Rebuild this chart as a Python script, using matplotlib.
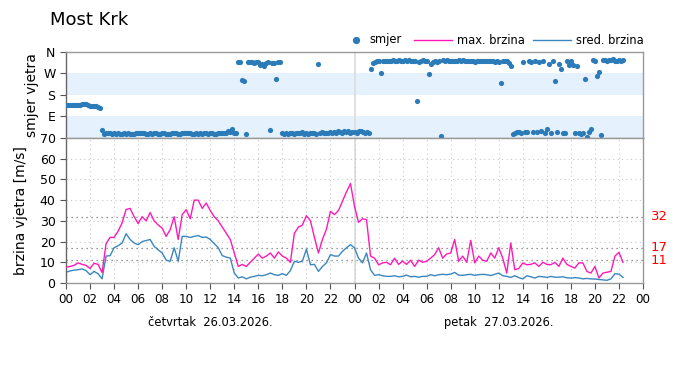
import numpy as np
import matplotlib
matplotlib.use("Agg")
import matplotlib.pyplot as plt
from matplotlib.lines import Line2D

# ---- data (hours since 26.03.2026 00:00) ----
# speeds: 20-minute samples
max_speed = [
    7.6, 8, 8.5,   9.7, 9, 8.5,   7, 9.5, 9,   5, 19, 22,
    22, 25, 29,   35.5, 36, 32,   28.7, 32, 30,   34, 30, 28,
    26.5, 22.5, 25.8,   32, 21, 33,   35.4, 31, 40,   40, 36, 38.6,
    35, 32, 30,   27, 24, 21,   14.5, 8, 9,   8, 10, 12,
    14, 12, 13,   14.5, 12, 15,   13, 12, 10,   24, 27, 28,
    32.5, 30, 22,   14.5, 21, 26,   34.6, 33, 35,   39.5, 44, 48,
    37, 29.3, 31,   30.6, 13, 12,   8.8, 9.7, 10,   8.8, 12, 9,
    10.5, 9, 11,   8, 11, 10,   10.5, 12, 13.7,   17, 12, 14,
    14.5, 21, 10.5,   13, 10, 20.6,   9.7, 13, 11,   10.5, 14.5, 12,
    17, 12, 4.8,   19.3, 6.4, 7,   9.7, 8.8, 9,   9.7, 8, 10,
    9, 8.8, 10,   8, 12, 9,   8, 7.2, 9.7,   9.7, 5.6, 4.8,
    8, 2.4, 4.8,   5.2, 5.6, 13,   14.8, 10,
]
mean_speed = [
    5.2, 5.8, 6.2,   6.4, 6.8, 6,   4, 5.6, 4.5,   2, 13, 13.2,
    17, 18, 19.3,   23.8, 21, 19.3,   18.5, 20, 20.5,   21, 17.7, 16,
    14.5, 11, 10.5,   17, 10.5, 22.5,   22.5, 22, 22.5,   22.9, 22, 22.2,
    21, 19, 17,   13.2, 12.5, 12,   4.8, 2.4, 3,   2, 2.8, 3.2,
    3.7, 3.5, 4,   4.8, 4, 3.7,   4.5, 3.7, 6,   10.5, 10, 10.5,
    16.4, 8.8, 9,   5.6, 8, 9.7,   13.7, 13, 13,   15.3, 17, 18.5,
    17, 12, 9.7,   14.5, 6.4, 3.7,   4, 3.5, 3.2,   3.2, 3.5, 3,
    3.2, 3.8, 3,   3.2, 2.8, 3.2,   3.2, 4, 3.5,   4, 4.2, 4,
    4.3, 5.1, 3.8,   3.7, 4, 4.2,   3.7, 4, 4.2,   4, 3.6, 4.2,
    4.8, 3.5, 3.2,   2.7, 3.5, 2.6,   2, 3.5, 3,   2.4, 3.2, 3,
    2.7, 3.2, 2.8,   2.8, 3, 2.5,   2.4, 2.6, 2.4,   2, 2.2, 2,
    1.9, 1.7, 1.5,   1.3, 2, 4.5,   4.3, 2.7,
]
# direction: 10-minute samples (degrees)
direction = [
    137, 138, 138, 139, 139, 138,   140, 139, 141, 141, 142, 140,
    133, 136, 135, 134, 131, 127,   33, 18, 20, 19, 21, 18,
    19, 17, 20, 18, 16, 19,   18, 22, 17, 15, 17, 20,
    20, 23, 19, 21, 18, 17,   21, 18, 20, 19, 17, 18,
    22, 19, 17, 16, 18, 20,   20, 21, 18, 17, 19, 21,
    19, 22, 20, 18, 16, 19,   18, 20, 17, 21, 19, 17,
    21, 19, 18, 16, 20, 23,   20, 22, 19, 30, 24, 38,
    22, 20, 317, 317, 243, 240,   17, 318, 318, 320, 316, 317,
    317, 305, 310, 303, 312, 318,   33, 315, 316, 247, 318, 317,
    20, 18, 22, 17, 19, 21,   17, 22, 19, 20, 25, 18,
    20, 18, 22, 19, 21, 17,   310, 20, 24, 21, 19, 23,
    25, 19, 27, 22, 30, 26,   22, 30, 25, 28, 20, 24,
    26, 20, 28, 30, 25, 22,   27, 22, 287, 312, 318, 322,
    322, 273, 322, 324, 323, 322,   323, 325, 321, 324, 326, 322,
    323, 326, 322, 325, 323, 324,   324, 156, 320, 322, 325, 321,
    323, 268, 308, 320, 322, 318,   322, 8, 327, 324, 325, 322,
    324, 323, 321, 323, 325, 322,   325, 322, 324, 321, 323, 324,
    320, 323, 324, 322, 321, 323,   322, 321, 323, 324, 320, 322,
    320, 232, 321, 322, 321, 312,   301, 18, 22, 26, 24, 20,
    320, 26, 25, 321, 320, 24,   321, 24, 320, 30, 322, 21,
    38, 308, 20, 322, 240, 25,   308, 289, 20, 22, 322, 305,
    322, 305, 22, 300, 20, 18,   20, 245, 3, 25, 38, 325,
    324, 259, 278, 12, 325, 328,   322, 326, 325, 330, 322, 323,
    326, 324, 325,
]
ref_levels = [32, 17, 11]
day_labels = ["četvrtak  26.03.2026.", "petak  27.03.2026."]
dir_ticks = [90, 180, 270, 360]
dir_labels = ["E", "S", "W", "N"]
hour_labels = ["%02d" % (h % 24) for h in range(0, 49, 2)]

t_speed = np.arange(len(max_speed)) / 3.0
t_dir = np.arange(len(direction)) / 6.0

C_MAX = "#ff1ab8"
C_MEAN = "#3a87c0"
C_DOT = "#2b7bb9"
GRID = "#c8c8c8"

fig = plt.figure(figsize=(7.0, 3.86), dpi=100)
L, W = 66 / 700, 577 / 700
ax1 = fig.add_axes([L, 1 - 138 / 386, W, 86 / 386])
ax2 = fig.add_axes([L, 1 - 283 / 386, W, 145 / 386])

# --- direction panel ---
ax1.axhspan(0, 90, color="#e5f1fd", lw=0, zorder=0)
ax1.axhspan(180, 270, color="#e5f1fd", lw=0, zorder=0)
ax1.axvline(24, color="#dcdcdc", lw=1.2, zorder=0.5)
ax1.scatter(t_dir, direction, s=14, color=C_DOT, zorder=3, linewidths=0)
ax1.set_xlim(0, 48)
ax1.set_ylim(0, 360)
ax1.set_yticks(dir_ticks)
ax1.set_yticklabels(dir_labels)
ax1.set_xticks(range(0, 49, 2))
ax1.tick_params(axis="x", length=0, labelbottom=False)
ax1.tick_params(axis="y", labelsize=9, length=4, color="#555555")
ax1.set_ylabel("smjer vjetra", fontsize=10)
ax1.yaxis.set_label_coords(-0.047, 0.5)

# --- speed panel ---
ax2.axvline(24, color="#dcdcdc", lw=1.2, zorder=0.5)
for v in range(10, 71, 10):
    ax2.axhline(v, color=GRID, lw=0.8, ls=(0, (1, 3)), zorder=0.6)
for h in range(2, 48, 2):
    ax2.axvline(h, color=GRID, lw=0.8, ls=(0, (1, 3)), zorder=0.6)
for v in ref_levels:
    ax2.axhline(v, color="#777777", lw=0.9, ls=(0, (1, 3)), zorder=1)
    ax2.text(1.013, v, str(v), transform=ax2.get_yaxis_transform(),
             color="red", fontsize=9.5, va="center", ha="left")
ax2.plot(t_speed, max_speed, color=C_MAX, lw=1.0, zorder=3)
ax2.plot(t_speed, mean_speed, color=C_MEAN, lw=1.0, zorder=2)
ax2.set_xlim(0, 48)
ax2.set_ylim(0, 70)
ax2.set_yticks(range(0, 71, 10))
ax2.set_xticks(range(0, 49, 2))
ax2.set_xticklabels(hour_labels)
ax2.tick_params(axis="y", labelsize=9, length=4, color="#555555")
ax2.tick_params(axis="x", labelsize=8.6, length=4, color="#555555")
ax2.set_ylabel("brzina vjetra [m/s]", fontsize=10)
ax2.yaxis.set_label_coords(-0.066, 0.5)

for ax in (ax1, ax2):
    for s in ax.spines.values():
        s.set_color("#999999")
        s.set_linewidth(1.0)
    ax.spines["left"].set_color("#666666")

for i, lab in enumerate(day_labels):
    ax2.text(12 + 24 * i, -19.3, lab, transform=ax2.transData,
             ha="center", va="center", fontsize=8.3)

fig.text(50 / 700, 1 - 20 / 386, "Most Krk", fontsize=13, va="center", ha="left")

# --- legend (placed manually) ---
ly = 1 - 40 / 386
fig.add_artist(Line2D([356 / 700], [ly], marker="o", ls="none",
                      color=C_DOT, markersize=4.2, transform=fig.transFigure))
fig.text(369 / 700, ly, "smjer", fontsize=8.3, va="center", ha="left")
fig.add_artist(Line2D([414 / 700, 452 / 700], [ly, ly], color=C_MAX, lw=1.0,
                      transform=fig.transFigure))
fig.text(457 / 700, ly, "max. brzina", fontsize=8.3, va="center", ha="left")
fig.add_artist(Line2D([533 / 700, 571 / 700], [ly, ly], color=C_MEAN, lw=1.0,
                      transform=fig.transFigure))
fig.text(576 / 700, ly, "sred. brzina", fontsize=8.3, va="center", ha="left")

fig.savefig("out.png", dpi=100)
